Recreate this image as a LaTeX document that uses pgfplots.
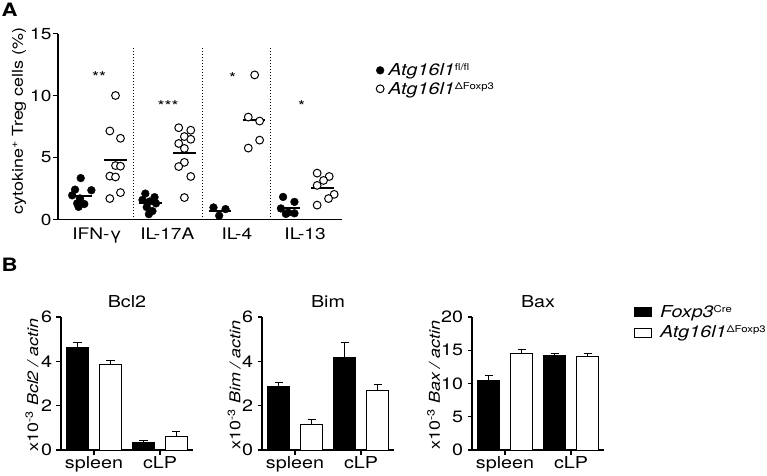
\documentclass[border=0pt]{standalone}
\usepackage{fontspec}
\setmainfont{TeX Gyre Heros}[FakeStretch=1.2]
\usepackage{pgfplots}
\pgfplotsset{compat=1.18}
\pgfplotsset{/pgf/number format/assume math mode=true}
\newcommand{\fs}[1]{\fontsize{#1}{#1}\selectfont}
\newcommand{\sups}[1]{\raisebox{5bp}{\fs{9.5}#1}}

\pgfplotsset{
  dotlegend/.style={legend image code/.code={\draw[##1] plot coordinates {(5bp,0bp)};\path (11bp,0bp);}},
  rectlegend/.style={legend image code/.code={\draw[##1] (0bp,-4.5bp) rectangle (17bp,4.5bp);\path (23bp,0bp);}},
  barpanel/.style={
    scale only axis, width=132bp, height=133bp,
    axis lines=left, axis line style={-, line width=1.3bp},
    xmin=0.5, xmax=2.5, ymin=0,
    xtick={1,2}, xticklabels={spleen,cLP},
    tick align=outside, major tick length=4.5bp,
    tick style={black, line width=1.2bp},
    tick label style={font=\fs{16.5}},
    xticklabel style={yshift=1.5bp},
    yticklabel style={xshift=-1bp},
    title style={font=\fs{16.5}},
    clip=false,
  },
  bars/.style={ybar, bar width=0.333, bar shift=0, draw=black, line width=1bp,
    rectlegend,
    error bars/.cd, y dir=plus, y explicit,
    error bar style={line width=1bp, black},
    error mark options={rotate=90, mark size=4bp, line width=1bp, black}},
}

\begin{document}
\begin{tikzpicture}
\useasboundingbox (0,0) rectangle (767bp,-476bp);

\node[anchor=north west, inner sep=0, font=\fs{18.5}\bfseries] at (1.5bp,-3bp) {A};
\node[anchor=north west, inner sep=0, font=\fs{18.5}\bfseries] at (1.5bp,-258bp) {B};

% ---------------- panel A ----------------
\begin{axis}[
  at={(58bp,-219.5bp)}, anchor=south west,
  scale only axis, width=284bp, height=186bp,
  xmin=0, xmax=4, ymin=0, ymax=15,
  axis lines=left, axis line style={-, line width=1.3bp},
  ytick={0,5,10,15},
  xtick={0.55,1.54,2.52,3.48},
  xticklabels={IFN-γ,IL-17A,IL-4,IL-13},
  tick align=outside, major tick length=5bp,
  tick style={black, line width=1.2bp},
  x tick style={draw=none},
  tick label style={font=\fs{16}},
  yticklabel style={xshift=2bp},
  ylabel={cytokine\textsuperscript{+} Treg cells (\%)},
  ylabel style={font=\fs{15}, at={(axis description cs:-0.137,0.53)}, anchor=center},
  clip=false,
  legend style={at={(axis description cs:1.12,0.85)}, anchor=north west,
    draw=none, fill=none, inner sep=0pt, row sep=1bp, font=\fs{16.5}},
  legend cell align=left,
]
% group separators
\addplot[black, dotted, line width=1bp, forget plot] coordinates {(1.06,0) (1.06,13.8)};
\addplot[black, dotted, line width=1bp, forget plot] coordinates {(2.04,0) (2.04,13.8)};
\addplot[black, dotted, line width=1bp, forget plot] coordinates {(2.99,0) (2.99,13.8)};

% Atg16l1 fl/fl
\addplot[only marks, mark=*, mark size=3.9bp, black, mark options={fill=black}, dotlegend] coordinates {
  (0.32,3.34) (0.24,2.41) (0.47,2.36) (0.20,1.95) (0.31,1.70) (0.27,1.30) (0.37,1.25) (0.29,1.02)
  (1.23,2.09) (1.36,1.80) (1.19,1.58) (1.29,1.45) (1.38,1.30) (1.25,1.00) (1.33,0.68) (1.28,0.43)
  (2.19,0.97) (2.36,0.84) (2.27,0.31)
  (3.17,1.82) (3.33,1.42) (3.14,0.89) (3.24,0.55) (3.33,0.50) (3.21,0.45)
};
\addlegendentry{\textit{Atg16l1}\sups{fl/fl}}
% Atg16l1 dFoxp3
\addplot[only marks, mark=*, mark size=3.9bp, black, mark options={fill=white, line width=1bp}, dotlegend] coordinates {
  (0.81,10.00) (0.73,7.14) (0.88,6.55) (0.81,4.35) (0.88,4.30) (0.73,3.50) (0.81,3.43) (0.88,2.17) (0.73,1.69)
  (1.70,7.40) (1.87,7.20) (1.78,6.69) (1.87,6.47) (1.70,6.13) (1.78,5.73) (1.78,4.61) (1.70,4.27) (1.87,3.47) (1.78,1.77)
  (2.77,11.66) (2.68,8.26) (2.84,7.94) (2.84,6.40) (2.68,5.76)
  (3.65,3.74) (3.82,3.47) (3.74,3.15) (3.65,2.75) (3.89,2.03) (3.81,1.69) (3.65,1.16)
};
\addlegendentry{\textit{Atg16l1}\sups{ΔFoxp3}}

% means
\addplot[black, line width=2bp, forget plot] coordinates {(0.16,1.87) (0.48,1.87)};
\addplot[black, line width=2bp, forget plot] coordinates {(0.65,4.80) (0.97,4.80)};
\addplot[black, line width=2bp, forget plot] coordinates {(1.14,1.33) (1.46,1.33)};
\addplot[black, line width=2bp, forget plot] coordinates {(1.62,5.40) (1.95,5.40)};
\addplot[black, line width=2bp, forget plot] coordinates {(2.12,0.68) (2.43,0.68)};
\addplot[black, line width=2bp, forget plot] coordinates {(2.60,8.02) (2.92,8.02)};
\addplot[black, line width=2bp, forget plot] coordinates {(3.09,0.94) (3.41,0.94)};
\addplot[black, line width=2bp, forget plot] coordinates {(3.57,2.57) (3.89,2.57)};

% significance
\node[anchor=base, font=\fs{15}] at (axis cs:0.58,11.05) {**};
\node[anchor=base, font=\fs{15}] at (axis cs:1.55,8.7) {***};
\node[anchor=base, font=\fs{15}] at (axis cs:2.46,10.95) {*};
\node[anchor=base, font=\fs{15}] at (axis cs:3.43,8.7) {*};
\end{axis}

% ---------------- panel B: Bcl2 ----------------
\begin{axis}[barpanel,
  at={(61bp,-450bp)}, anchor=south west,
  ymax=6, ytick={0,2,4,6},
  title={Bcl2},
  ylabel={x10\textsuperscript{-3} \textit{Bcl2 / actin}},
  ylabel style={font=\fs{15}, at={(axis description cs:-0.22,0.49)}, anchor=center},
]
\addplot[fill=black, bars] coordinates {(0.75,4.63) +- (0,0.22) (1.75,0.34) +- (0,0.09)};
\addplot[fill=white, bars] coordinates {(1.25,3.88) +- (0,0.15) (2.25,0.63) +- (0,0.19)};
\end{axis}

% ---------------- panel B: Bim ----------------
\begin{axis}[barpanel,
  at={(262bp,-450bp)}, anchor=south west,
  ymax=6, ytick={0,2,4,6},
  title={Bim},
  ylabel={x10\textsuperscript{-3} \textit{Bim / actin}},
  ylabel style={font=\fs{15}, at={(axis description cs:-0.21,0.49)}, anchor=center},
]
\addplot[fill=black, bars] coordinates {(0.75,2.88) +- (0,0.18) (1.75,4.18) +- (0,0.67)};
\addplot[fill=white, bars] coordinates {(1.25,1.15) +- (0,0.22) (2.25,2.69) +- (0,0.27)};
\end{axis}

% ---------------- panel B: Bax ----------------
\begin{axis}[barpanel,
  at={(472bp,-450bp)}, anchor=south west,
  ymax=20, ytick={0,5,10,15,20},
  title={Bax},
  ylabel={x10\textsuperscript{-3} \textit{Bax / actin}},
  ylabel style={font=\fs{15}, at={(axis description cs:-0.29,0.49)}, anchor=center},
  legend style={at={(axis description cs:1.227,1.105)}, anchor=north west,
    draw=none, fill=none, inner sep=0pt, row sep=3bp, font=\fs{16.5}},
  legend cell align=left,
]
\addplot[fill=black, bars] coordinates {(0.75,10.5) +- (0,0.7) (1.75,14.24) +- (0,0.3)};
\addlegendentry{\textit{Foxp3}\sups{Cre}}
\addplot[fill=white, bars] coordinates {(1.25,14.45) +- (0,0.6) (2.25,14.1) +- (0,0.4)};
\addlegendentry{\textit{Atg16l1}\sups{ΔFoxp3}}
\end{axis}
\end{tikzpicture}
\end{document}
